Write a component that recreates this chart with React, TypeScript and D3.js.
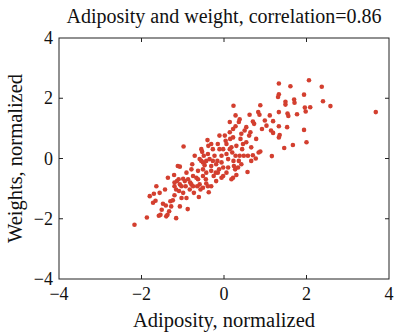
import * as d3 from 'd3'

// adiposity (x) and weight (y), both normalized
const adiposity = [
  1.33, 1.61, 2.06, 2.37, 1.33, 1.31, 1.49, 1.70, 1.94, 2.40, 2.58, 1.49, 1.71, 1.96, 2.09, 1.98, 3.68, 1.33, 1.54, 1.77,
  1.56, 1.19, 1.33, 1.53, 0.99, 0.92, 1.14, 1.19, 1.35, 1.33, 1.94, 2.00, 1.67, 1.46, 1.16, 0.88, 0.83, 0.86, 0.62, 0.73,
  0.70, 0.23, 0.28, 0.38, 0.36, 0.28, 0.22, 0.50, 0.64, 0.61, 0.88, 0.84, 0.77, 0.70, 0.58, 0.48, 0.44, 0.57, 0.24, 0.22,
  0.30, -2.17, -1.87, -1.80, -1.70, -1.64, -1.66, -1.58, -1.54, -1.51, -1.48, -1.43, -1.40, -1.37, -1.36, -1.41, -1.30, -1.28, -1.24, -1.21,
  -1.20, -1.20, -1.16, -1.16, -1.33, -0.98, -1.12, -1.07, -1.10, -1.14, -1.07, -1.03, -1.09, -0.99, -0.95, -0.93, -0.87, -0.91, -0.88, -0.79,
  -0.75, -0.77, -0.82, -0.73, -0.67, -0.65, -0.61, -0.63, -0.59, -0.57, -0.55, -0.53, -0.49, -0.55, -0.51, -0.47, -0.51, -0.43, -0.40, -0.44,
  -0.43, -0.39, -0.37, -0.38, -0.39, -0.35, -0.31, -0.27, -0.23, -0.27, -0.25, -0.20, -0.19, -0.15, -0.11, -0.06, -0.02, -0.02, 0.02, 0.04,
  0.06, 0.10, 0.10, 0.14, 0.15, 0.18, 0.20, 0.23, 0.27, 0.28, 0.34, 0.36, 0.38, 0.40, 0.42, 0.46, 0.18, -0.06, -0.12, -0.16,
  -0.71, -0.59, -0.43, -0.31, -0.15, 0.06, 0.14, -0.02, -0.06, 0.06, -0.19, -0.51, -0.63, -0.75, -0.83, -0.99, -1.03, -1.20, 0.30, 0.54,
  0.66, 0.78, 0.54, 0.14, 1.03, 1.11, 0.66, 0.42, -0.31, -0.51, -0.79, -0.91, -1.56, -1.72, -1.07, -0.31, -0.11, 0.22,
]
const weights = [
  2.49, 2.40, 2.60, 2.38, 2.13, 2.04, 1.88, 1.96, 2.12, 1.90, 1.74, 1.79, 1.85, 1.69, 1.70, 1.56, 1.54, 1.54, 1.49, 1.47,
  1.41, 1.24, 1.07, 1.04, 1.26, 0.98, 0.93, 0.85, 0.78, 0.70, 0.95, 0.54, 0.45, 0.35, 0.08, 1.77, 1.54, 1.45, 1.45, 1.15,
  1.23, 1.75, 1.43, 1.30, 1.21, 1.07, 0.98, 0.93, 0.87, 0.76, 0.23, 0.20, 0.00, 0.11, 0.09, 0.09, 0.31, -0.45, -0.25, -0.64,
  -0.55, -2.20, -1.96, -1.25, -1.17, -0.92, -1.40, -1.90, -1.87, -1.70, -1.50, -1.03, -1.92, -1.87, -0.64, -1.56, -1.42, -1.59, -1.39, -0.55,
  -0.80, -1.22, -1.98, -1.03, -1.75, 0.40, -0.25, -0.27, -0.69, -0.75, -0.86, -0.92, -1.08, -0.67, -0.75, -0.92, -0.69, -1.31, -1.68, -0.86,
  -0.58, -0.19, -0.80, -1.14, -0.64, -0.92, -1.28, -0.41, -0.86, -1.03, 0.31, 0.22, 0.09, -0.08, -0.13, -0.22, -0.36, -0.47, 0.61, -0.69,
  -0.83, -0.92, -1.12, 0.42, 0.15, -0.02, -0.25, -0.08, 0.09, 0.31, -0.58, -0.47, -0.75, 0.48, 0.31, -0.13, -0.30, -0.58, 0.76, 0.59,
  0.15, -0.02, -0.30, 0.87, 0.65, 0.37, 0.20, -0.08, -0.36, 0.09, -0.30, -0.08, 0.09, 0.65, 0.82, 0.48, -0.69, -0.64, -0.36, -0.08,
  0.09, -0.02, -0.08, -0.41, -0.47, -0.47, 0.31, 0.31, 0.09, 0.48, -0.19, -0.58, -0.69, -0.92, -1.03, -1.14, -1.31, -0.92, 0.42, 0.54,
  0.37, 0.65, 1.04, 1.21, 1.09, 1.43, -0.08, -0.19, -0.92, -0.97, -0.36, -0.47, -1.14, -1.47, -1.59, 0.48, 0.76, 0.70,
]
const ticks = [-4, -2, 0, 2, 4]

const W = 396
const H = 333
const plot = { left: 59, right: 389, top: 38, bottom: 279 }
const font = '"Liberation Serif", "DejaVu Serif", serif'

export default function App() {
  const x = d3.scaleLinear().domain([-4, 4]).range([plot.left, plot.right])
  const y = d3.scaleLinear().domain([-4, 4]).range([plot.bottom, plot.top])
  const fmt = (d: number) => (d < 0 ? '\u2212' + Math.abs(d) : String(d))
  const tl = 4

  return (
    <svg width={W} height={H} style={{ position: 'absolute', left: 0, top: 0 }}>
      <rect width={W} height={H} fill="#fff" />
      <text x={(plot.left + plot.right) / 2} y={23} textAnchor="middle" fontFamily={font} fontSize={20} fill="#111">
        Adiposity and weight, correlation=0.86
      </text>

      {adiposity.map((a, i) => (
        <circle key={i} cx={x(a)} cy={y(weights[i])} r={2.3} fill="#d33f2f" />
      ))}

      <rect x={plot.left} y={plot.top} width={plot.right - plot.left} height={plot.bottom - plot.top}
        fill="none" stroke="#222" strokeWidth={1} />

      {ticks.slice(1, -1).map(t => (
        <g key={'t' + t} stroke="#222" strokeWidth={1}>
          <line x1={x(t)} x2={x(t)} y1={plot.bottom} y2={plot.bottom - tl} />
          <line x1={x(t)} x2={x(t)} y1={plot.top} y2={plot.top + tl} />
          <line x1={plot.left} x2={plot.left + tl} y1={y(t)} y2={y(t)} />
          <line x1={plot.right} x2={plot.right - tl} y1={y(t)} y2={y(t)} />
        </g>
      ))}

      {ticks.map(t => (
        <text key={'x' + t} x={x(t)} y={plot.bottom + 21} textAnchor="middle" fontFamily={font} fontSize={18} fill="#111">
          {fmt(t)}
        </text>
      ))}
      {ticks.map(t => (
        <text key={'y' + t} x={plot.left - 6} y={y(t) + 6} textAnchor="end" fontFamily={font} fontSize={18} fill="#111">
          {fmt(t)}
        </text>
      ))}

      <text x={(plot.left + plot.right) / 2} y={327} textAnchor="middle" fontFamily={font} fontSize={20.5} fill="#111">
        Adiposity, normalized
      </text>
      <text transform={`translate(22,${(plot.top + plot.bottom) / 2}) rotate(-90)`} textAnchor="middle"
        fontFamily={font} fontSize={20.5} fill="#111">
        Weights, normalized
      </text>
    </svg>
  )
}
